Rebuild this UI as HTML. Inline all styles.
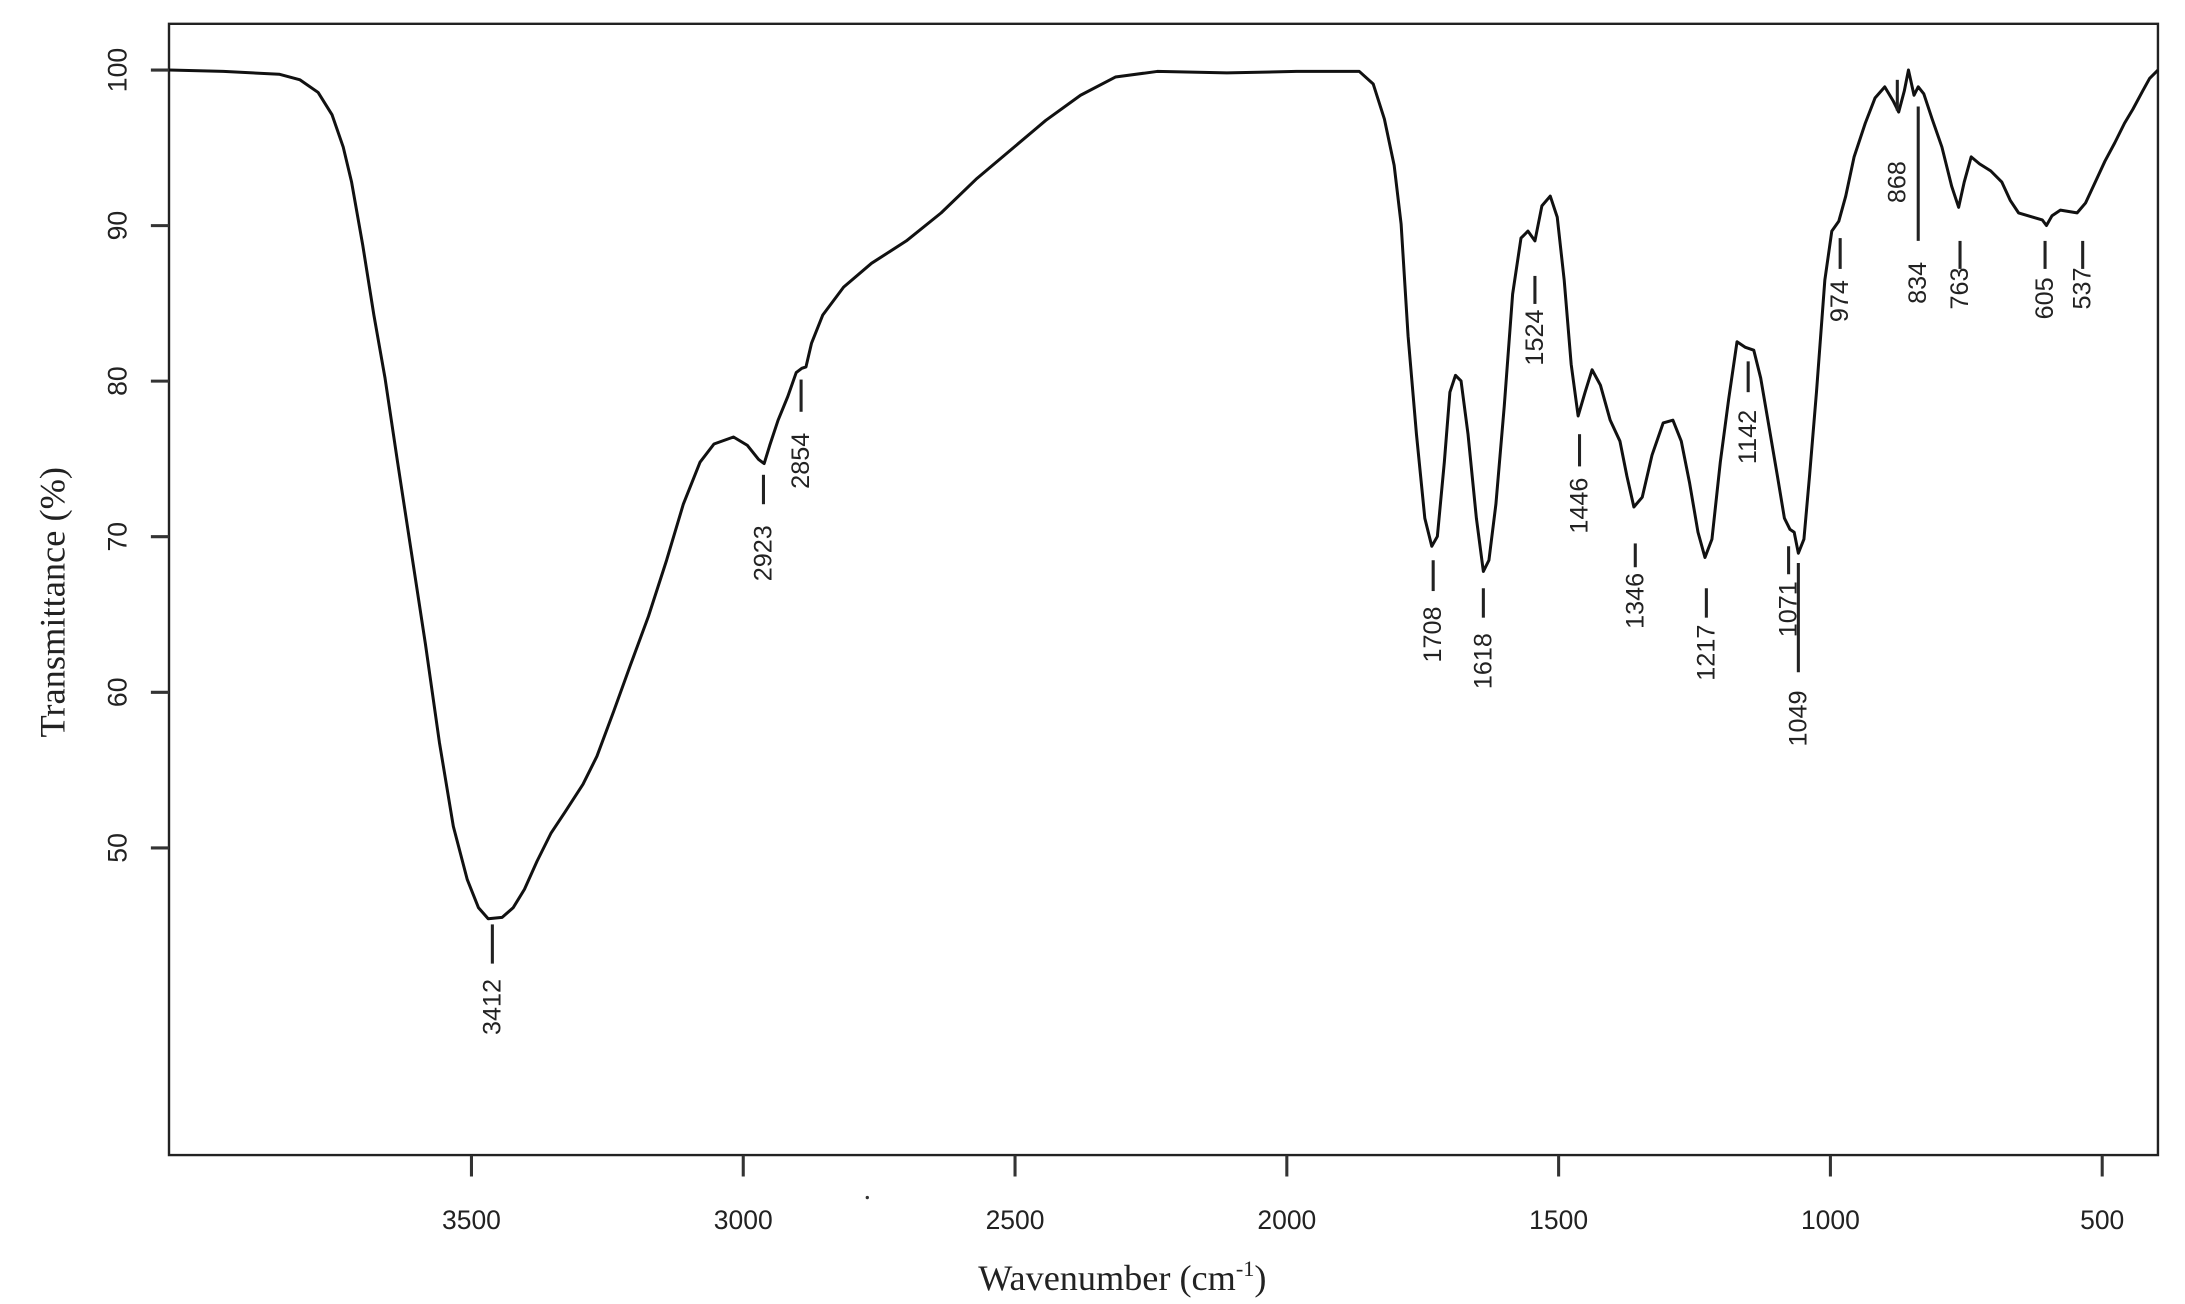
<!DOCTYPE html>
<html><head><meta charset="utf-8"><style>html,body{margin:0;padding:0;background:#fff}svg{display:block}</style></head>
<body>
<svg width="2185" height="1304" viewBox="0 0 2185 1304" xmlns="http://www.w3.org/2000/svg">
<g transform="translate(169,0) scale(1.3938,1.4006) translate(-121,0)" font-family="Liberation Sans, sans-serif" fill="#222">
<rect x="121" y="17" width="1427" height="807.7" fill="none" stroke="#222" stroke-width="2.4" vector-effect="non-scaling-stroke"/>
<g stroke="#333" stroke-width="2.2" vector-effect="non-scaling-stroke">
<line x1="108" y1="50" x2="121" y2="50"/><line x1="108" y1="161.1" x2="121" y2="161.1"/><line x1="108" y1="272.1" x2="121" y2="272.1"/><line x1="108" y1="383.2" x2="121" y2="383.2"/><line x1="108" y1="494.3" x2="121" y2="494.3"/><line x1="108" y1="605.4" x2="121" y2="605.4"/>
<line x1="338" y1="825" x2="338" y2="840"/><line x1="533" y1="825" x2="533" y2="840"/><line x1="728" y1="825" x2="728" y2="840"/><line x1="923" y1="825" x2="923" y2="840"/><line x1="1118" y1="825" x2="1118" y2="840"/><line x1="1313" y1="825" x2="1313" y2="840"/><line x1="1508" y1="825" x2="1508" y2="840"/>
</g>
<g font-size="19" text-anchor="middle" dominant-baseline="central">
<text transform="translate(84,50) rotate(-90)">100</text>
<text transform="translate(84,161.1) rotate(-90)">90</text>
<text transform="translate(84,272.1) rotate(-90)">80</text>
<text transform="translate(84,383.2) rotate(-90)">70</text>
<text transform="translate(84,494.3) rotate(-90)">60</text>
<text transform="translate(84,605.4) rotate(-90)">50</text>
<text x="338" y="871">3500</text><text x="533" y="871">3000</text><text x="728" y="871">2500</text><text x="923" y="871">2000</text><text x="1118" y="871">1500</text><text x="1313" y="871">1000</text><text x="1508" y="871">500</text>
</g>
<circle cx="622" cy="855" r="1.2" fill="#333"/>
<text x="805" y="921" font-family="Liberation Serif, serif" font-size="26" text-anchor="middle">Wavenumber (cm<tspan font-size="16" dy="-10">-1</tspan><tspan dy="10">)</tspan></text>
<text transform="translate(46,430) rotate(-90)" font-family="Liberation Serif, serif" font-size="26" text-anchor="middle">Transmittance (%)</text>
<path fill="none" stroke="#111" stroke-width="3" vector-effect="non-scaling-stroke" stroke-linejoin="round" d="M121,50 L160,51 L200,53 L215,57 L228,66 L238,82 L246,105 L252,130 L260,175 L268,225 L276,270 L285,330 L295,395 L305,460 L315,530 L325,590 L335,628 L343,648 L350,656 L360,655 L368,648 L376,635 L385,615 L395,595 L405,580 L418,560 L428,540 L440,508 L452,475 L465,440 L478,400 L490,360 L502,330 L512,317 L526,312 L536,318 L544,328 L548,331 L552,318 L558,300 L565,283 L571,266 L575,263 L578,262 L582,245 L590,225 L605,205 L625,188 L650,172 L675,152 L700,128 L725,107 L750,86 L775,68 L800,55 L830,51 L880,52 L930,51 L975,51 L985,60 L993,85 L1000,118 L1005,160 L1010,240 L1016,310 L1022,370 L1027,390 L1031,383 L1036,330 L1040,280 L1044,268 L1048,272 L1053,310 L1059,370 L1064,408 L1068,400 L1073,360 L1079,290 L1085,210 L1091,170 L1096,165 L1101,172 L1106,147 L1112,140 L1117,155 L1122,200 L1127,260 L1132,297 L1137,280 L1142,264 L1148,275 L1155,300 L1162,315 L1167,340 L1172,362 L1178,355 L1185,325 L1193,302 L1200,300 L1206,315 L1212,345 L1218,380 L1223,398 L1228,385 L1234,330 L1240,285 L1246,244 L1252,248 L1258,250 L1263,270 L1269,305 L1275,340 L1280,370 L1284,378 L1287,380 L1290,395 L1294,385 L1298,340 L1303,280 L1309,200 L1314,165 L1319,158 L1324,140 L1330,112 L1338,88 L1345,70 L1352,62 L1358,72 L1362,80 L1366,65 L1369,50 L1373,68 L1376,62 L1380,67 L1386,85 L1393,105 L1400,133 L1405,148 L1409,130 L1414,112 L1420,117 L1428,122 L1436,130 L1442,143 L1448,152 L1458,155 L1465,157 L1468,161 L1472,154 L1478,150 L1484,151 L1490,152 L1496,145 L1503,130 L1510,115 L1517,102 L1524,88 L1530,78 L1537,65 L1542,56 L1548,50"/>
<g stroke="#222" stroke-width="2.2" vector-effect="non-scaling-stroke">
<line x1="353" y1="660" x2="353" y2="688"/>
<line x1="547.5" y1="339" x2="547.5" y2="360"/>
<line x1="574.5" y1="271" x2="574.5" y2="294"/>
<line x1="1028" y1="400" x2="1028" y2="422"/>
<line x1="1064" y1="420" x2="1064" y2="441"/>
<line x1="1101" y1="197" x2="1101" y2="217"/>
<line x1="1133" y1="310" x2="1133" y2="333"/>
<line x1="1173" y1="388" x2="1173" y2="405"/>
<line x1="1224" y1="420" x2="1224" y2="441"/>
<line x1="1254" y1="258" x2="1254" y2="280"/>
<line x1="1283" y1="390" x2="1283" y2="410"/>
<line x1="1290" y1="402" x2="1290" y2="480"/>
<line x1="1320" y1="170" x2="1320" y2="192"/>
<line x1="1361" y1="57" x2="1361" y2="79"/>
<line x1="1376" y1="76" x2="1376" y2="172"/>
<line x1="1406" y1="172" x2="1406" y2="192"/>
<line x1="1467" y1="172" x2="1467" y2="192"/>
<line x1="1494" y1="172" x2="1494" y2="192"/>
</g>
<g font-size="18" text-anchor="middle" dominant-baseline="central">
<text transform="translate(353,719) rotate(-90)">3412</text>
<text transform="translate(547.5,395) rotate(-90)">2923</text>
<text transform="translate(574.5,329) rotate(-90)">2854</text>
<text transform="translate(1028,453) rotate(-90)">1708</text>
<text transform="translate(1064,472) rotate(-90)">1618</text>
<text transform="translate(1101,241) rotate(-90)">1524</text>
<text transform="translate(1133,361) rotate(-90)">1446</text>
<text transform="translate(1173,429) rotate(-90)">1346</text>
<text transform="translate(1224,466) rotate(-90)">1217</text>
<text transform="translate(1254,312) rotate(-90)">1142</text>
<text transform="translate(1283,435) rotate(-90)">1071</text>
<text transform="translate(1290,513) rotate(-90)">1049</text>
<text transform="translate(1320,215) rotate(-90)">974</text>
<text transform="translate(1361,130) rotate(-90)">868</text>
<text transform="translate(1376,202) rotate(-90)">834</text>
<text transform="translate(1406,206) rotate(-90)">763</text>
<text transform="translate(1467,213) rotate(-90)">605</text>
<text transform="translate(1494,206) rotate(-90)">537</text>
</g>
</g>
</svg>
</body></html>
